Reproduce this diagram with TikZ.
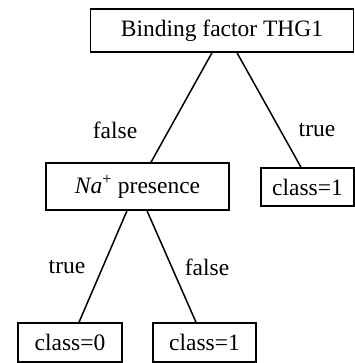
\documentclass[tikz,border=0pt]{standalone}
\usepackage{fontspec}
\setmainfont{Liberation Serif}
\usepackage{tikz}

\begin{document}
\begin{tikzpicture}[x=1pt,y=1pt,yscale=-1,xscale=1,
  treebox/.style={draw,line width=1.5pt,inner sep=0pt,font=\fontsize{23.5}{26}\selectfont},
  edgelbl/.style={inner sep=0.75pt,font=\fontsize{23.5}{26}\selectfont},
  branch/.style={line width=1.5pt}]
\useasboundingbox (0,0) rectangle (354,363);

% Boxes
\node [treebox,minimum width=263pt,minimum height=43pt] (thg) at (222,30.5) {Binding factor THG1};
\node [treebox,minimum width=183pt,minimum height=47pt] (na) at (137.5,186.5) {\textit{Na}\textsuperscript{+} presence};
\node [treebox,minimum width=93pt,minimum height=38pt] (cr) at (307.5,187) {class=1};
\node [treebox,minimum width=104pt,minimum height=39pt] (cz) at (70,342.5) {class=0};
\node [treebox,minimum width=103pt,minimum height=39pt] (co) at (204.5,342.5) {class=1};

% Branches
\draw [branch] ([xshift=-10pt]thg.south) -- ([xshift=13.5pt]na.north);
\draw [branch] ([xshift=15pt]thg.south) -- ([xshift=-6.5pt]cr.north);
\draw [branch] ([xshift=-10.5pt]na.south) -- ([xshift=9pt]cz.north);
\draw [branch] ([xshift=9.5pt]na.south) -- ([xshift=-8.5pt]co.north);

% Text Node
\node [edgelbl] (lf1) at (115,130) {false};
\node [edgelbl] (lt1) at (317,130) {true};
\node [edgelbl] (lt2) at (67,267) {true};
\node [edgelbl] (lf2) at (207,267) {false};
\end{tikzpicture}
\end{document}
